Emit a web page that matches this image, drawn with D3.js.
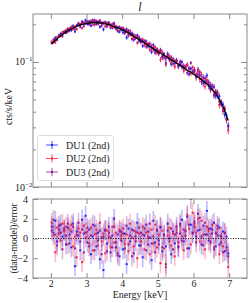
<!DOCTYPE html>
<html>
<head>
<meta charset="utf-8">
<script src="https://cdn.jsdelivr.net/npm/d3@7"></script>
<style>
  body { margin: 0; background: #fff; }
  svg text { font-family: "Liberation Serif", "DejaVu Serif", serif; fill: #222; }
</style>
</head>
<body>
<div id="art"></div>
<script>
// energy bins, 0.05 keV wide, 2.0 - 7.0 keV
const binWidth = 0.05;
const energies = d3.range(100).map(i => +(2.025 + i * binWidth).toFixed(3));

// model count rate (cts/s/keV), one value per bin
const model = [
  0.139, 0.144, 0.149, 0.153, 0.158, 0.162, 0.166, 0.170, 0.174, 0.177,
  0.181, 0.184, 0.187, 0.190, 0.193, 0.196, 0.198, 0.200, 0.201, 0.203,
  0.204, 0.205, 0.206, 0.207, 0.207, 0.207, 0.206, 0.205, 0.205, 0.203,
  0.202, 0.201, 0.199, 0.197, 0.194, 0.192, 0.190, 0.187, 0.185, 0.182,
  0.180, 0.177, 0.174, 0.171, 0.168, 0.164, 0.160, 0.157, 0.154, 0.151,
  0.148, 0.145, 0.142, 0.139, 0.136, 0.133, 0.131, 0.128, 0.125, 0.122,
  0.120, 0.118, 0.116, 0.113, 0.111, 0.109, 0.106, 0.104, 0.102, 0.100,
  0.098, 0.096, 0.094, 0.092, 0.090, 0.088, 0.086, 0.084, 0.083, 0.081,
  0.079, 0.077, 0.076, 0.074, 0.072, 0.070, 0.068, 0.067, 0.065, 0.062,
  0.060, 0.058, 0.056, 0.053, 0.050, 0.047, 0.044, 0.041, 0.037, 0.034
];

// fractional 1-sigma error per keV band (2-3, 3-4, 4-5, 5-6, 6-7)
const fracErr = [0.028, 0.032, 0.038, 0.046, 0.058];

// residuals (data-model)/error per bin
const residDU1 = [
  1.2, 0.6, 1.8, -0.3, 0.9, 1.4, 0.2, 0.8, -0.6, 1.1,
  0.4, -0.9, 1.5, -2.8, 0.7, 0.3, -1.2, 1.9, 0.5, 2.3,
  -0.4, 0.9, -1.6, 0.2, 1.3, -0.8, 0.6, -2.1, 0.1, -3.2,
  0.8, -0.5, 1.2, -1.4, 0.3, 2.0, -0.9, 0.4, -1.8, 0.7,
  -1.1, 0.5, -2.6, 1.0, -0.3, 0.9, -1.5, 0.2, 1.6, -0.7,
  0.6, -1.9, 0.3, 1.4, -0.6, 0.1, -2.2, 1.8, -0.4, 0.8,
  -0.2, 1.1, -1.3, 0.4, -0.8, 1.5, 0.0, -1.6, 0.7, -0.5,
  1.2, -0.9, 0.5, 1.9, -0.3, 0.8, 2.2, -1.0, 1.4, 0.6,
  1.7, 0.2, 2.5, 0.9, -0.6, 1.3, 0.4, 2.8, -0.2, 1.0,
  0.5, 1.6, -0.8, 0.3, 1.1, -0.4, 0.7, -1.3, 0.2, -1.5
];
const residDU2 = [
  1.6, 0.3, -1.4, 1.1, 0.5, -0.2, 1.5, 0.8, 1.2, -0.6,
  0.9, 1.4, -0.8, 0.2, -1.9, 1.0, 0.6, -2.4, 1.3, 0.1,
  0.7, -0.5, 1.1, -1.2, 0.4, 0.9, -0.7, 1.6, -0.3, 0.5,
  -1.5, 0.8, 0.2, -0.9, 1.2, -0.4, 0.6, -1.7, 0.9, 0.3,
  1.0, -0.6, 0.4, -1.3, 1.5, 0.1, -0.8, 0.7, -2.0, 0.5,
  -0.3, 1.2, -1.1, 0.6, 0.2, -1.6, 0.9, -0.5, 1.4, -0.9,
  0.4, -2.5, 0.8, -1.0, -2.9, 0.3, 1.1, -0.7, 0.5, -1.8,
  0.9, -0.4, 1.3, 0.2, -1.2, 0.7, 2.4, 1.0, -0.6, 2.6,
  1.5, 0.6, 2.0, -0.3, 1.8, 0.4, -1.1, 1.2, 0.8, -0.5,
  1.4, -0.9, 0.6, 1.0, -1.6, 0.3, -0.8, 0.5, -1.2, -2.9
];
const residDU3 = [
  0.8, 1.9, 0.4, -0.7, 1.3, 0.6, -1.1, 1.0, 0.3, 1.5,
  -0.5, 0.7, 1.2, -1.0, 0.4, 1.6, -0.3, 0.9, -1.4, 0.6,
  1.1, -0.8, 0.3, 1.4, -1.2, 0.5, -0.2, 0.8, -1.6, 0.2,
  0.9, -1.3, 0.6, 0.1, -0.9, 1.2, -0.4, -1.5, 0.7, -0.2,
  0.5, -1.0, 1.3, -0.6, 0.3, -1.8, 0.8, -0.3, 0.6, 1.1,
  -0.7, 0.4, 1.0, -1.2, 0.7, 1.5, -0.5, 0.2, -1.4, 0.9,
  -0.6, 1.2, -0.9, 0.3, -2.6, 0.8, -0.3, 1.0, -1.1, 0.4,
  0.6, -0.8, 1.5, -0.2, 0.9, 0.3, -1.0, 1.4, 4.0, 0.5,
  1.2, -0.4, 0.8, 2.1, 0.2, -0.7, 1.6, 0.4, 1.0, -0.3,
  0.9, -1.1, 0.5, 1.3, -0.6, 0.2, -1.4, 0.6, -0.9, -1.8
];

const seriesNames = ["DU1 (2nd)", "DU2 (2nd)", "DU3 (2nd)"];
const seriesColors = ["#1f1fff", "#ff2040", "#8e1b8e"];
const residuals = [residDU1, residDU2, residDU3];

const xTicks = [2, 3, 4, 5, 6, 7];
const residTicks = [-4, -2, 0, 2, 4];

function art() {
  const W = 250, H = 303;
  const left = 33, right = 247;
  const top1 = 14, bot1 = 187;
  const top2 = 199, bot2 = 278;
  const frame = "#8a8a8a";

  const svg = d3.select("#art").append("svg")
    .attr("width", W).attr("height", H);

  const x = d3.scaleLinear().domain([1.5, 7.5]).range([left, right]);
  const y = d3.scaleLog().domain([0.01, 0.242]).range([bot1, top1]);
  const yr = d3.scaleLinear().domain([-4, 4]).range([bot2, top2]);

  const defs = svg.append("defs");
  defs.append("clipPath").attr("id", "c1").append("rect")
    .attr("x", left).attr("y", top1).attr("width", right - left).attr("height", bot1 - top1);
  defs.append("clipPath").attr("id", "c2").append("rect")
    .attr("x", left).attr("y", top2).attr("width", right - left).attr("height", bot2 - top2);

  const band = e => Math.min(4, Math.floor(e - 2));

  // ---- spectrum panel
  const g1 = svg.append("g").attr("clip-path", "url(#c1)");
  residuals.forEach((res, k) => {
    const pts = energies.map((e, i) => {
      const s = model[i] * fracErr[band(e)];
      return { e, v: model[i] + res[i] * s, s };
    });
    const g = g1.append("g").attr("stroke", seriesColors[k]).attr("stroke-width", 0.8);
    g.selectAll(".ev").data(pts).enter().append("line")
      .attr("x1", d => x(d.e)).attr("x2", d => x(d.e))
      .attr("y1", d => y(d.v - d.s)).attr("y2", d => y(d.v + d.s));
    g.selectAll(".eh").data(pts).enter().append("line")
      .attr("x1", d => x(d.e - binWidth / 2)).attr("x2", d => x(d.e + binWidth / 2))
      .attr("y1", d => y(d.v)).attr("y2", d => y(d.v));
    g1.append("g").selectAll("rect").data(pts).enter().append("rect")
      .attr("x", d => x(d.e) - 0.9).attr("y", d => y(d.v) - 0.9)
      .attr("width", 1.8).attr("height", 1.8)
      .attr("fill", seriesColors[k]);
  });
  g1.append("path")
    .datum(energies.map((e, i) => [e, model[i]]))
    .attr("fill", "none").attr("stroke", "#000").attr("stroke-width", 1.3)
    .attr("d", d3.line().x(d => x(d[0])).y(d => y(d[1])));

  // ---- residual panel
  const g2 = svg.append("g").attr("clip-path", "url(#c2)");
  residuals.forEach((res, k) => {
    const pts = energies.map((e, i) => ({ e, r: res[i] }));
    g2.append("g").attr("stroke", seriesColors[k]).attr("stroke-opacity", 0.3)
      .attr("stroke-width", 1.6)
      .selectAll("line").data(pts).enter().append("line")
      .attr("x1", d => x(d.e)).attr("x2", d => x(d.e))
      .attr("y1", d => yr(d.r - 1)).attr("y2", d => yr(d.r + 1));
    g2.append("g").selectAll("rect").data(pts).enter().append("rect")
      .attr("x", d => x(d.e) - 1).attr("y", d => yr(d.r) - 1)
      .attr("width", 2).attr("height", 2)
      .attr("fill", seriesColors[k]);
  });
  g2.append("line")
    .attr("x1", left).attr("x2", right).attr("y1", yr(0)).attr("y2", yr(0))
    .attr("stroke", "#000").attr("stroke-width", 0.9).attr("stroke-dasharray", "1,1.5");

  // ---- frames and ticks
  function ticks(sel) {
    sel.select(".domain").remove();
    sel.selectAll(".tick line").attr("stroke", frame);
    sel.selectAll(".tick text").attr("font-size", 10).attr("fill", "#222")
      .style("font-family", "'Liberation Serif', serif");
  }
  const noLab = () => "";

  svg.append("g").attr("transform", `translate(0,${bot1})`)
    .call(d3.axisBottom(x).tickValues(xTicks).tickSize(-5).tickFormat(noLab)).call(ticks);
  svg.append("g").attr("transform", `translate(0,${top1})`)
    .call(d3.axisTop(x).tickValues(xTicks).tickSize(-5).tickFormat(noLab)).call(ticks);
  svg.append("g").attr("transform", `translate(0,${bot2})`)
    .call(d3.axisBottom(x).tickValues(xTicks).tickSize(-5).tickPadding(2).tickFormat(d3.format("d"))).call(ticks);
  svg.append("g").attr("transform", `translate(0,${top2})`)
    .call(d3.axisTop(x).tickValues(xTicks).tickSize(-5).tickFormat(noLab)).call(ticks);

  const majorY = [0.01, 0.1];
  const minorY = d3.range(2, 10).map(m => m * 0.01).concat([0.2]);
  [[left, d3.axisLeft], [right, d3.axisRight]].forEach(([px, ax]) => {
    svg.append("g").attr("transform", `translate(${px},0)`)
      .call(ax(y).tickValues(majorY).tickSize(-6).tickFormat(noLab)).call(ticks);
    svg.append("g").attr("transform", `translate(${px},0)`)
      .call(ax(y).tickValues(minorY).tickSize(-3).tickFormat(noLab)).call(ticks);
    svg.append("g").attr("transform", `translate(${px},0)`)
      .call(ax(yr).tickValues(residTicks).tickSize(-5)
        .tickPadding(5).tickFormat(px === left ? d3.format("d") : noLab)).call(ticks);
  });

  // log labels
  [[0.1, "−1"], [0.01, "−2"]].forEach(([v, ex]) => {
    const t = svg.append("text").attr("x", 15).attr("y", y(v) + 3.5).attr("font-size", 10);
    t.append("tspan").text("10");
    t.append("tspan").attr("dy", -4).attr("font-size", 7).text(ex);
  });

  [[top1, bot1], [top2, bot2]].forEach(([a, b]) => {
    svg.append("rect").attr("x", left).attr("y", a)
      .attr("width", right - left).attr("height", b - a)
      .attr("fill", "none").attr("stroke", frame).attr("stroke-width", 1);
  });

  // ---- legend
  const lg = svg.append("g");
  lg.append("rect").attr("x", 37.5).attr("y", 135.5).attr("width", 76).attr("height", 45)
    .attr("rx", 2).attr("fill", "#fff").attr("stroke", "#d6d6d6").attr("stroke-width", 0.8);
  seriesNames.forEach((name, k) => {
    const cy = 145 + k * 13.5;
    const c = seriesColors[k];
    lg.append("line").attr("x1", 46).attr("x2", 58).attr("y1", cy).attr("y2", cy)
      .attr("stroke", c).attr("stroke-width", 0.8);
    lg.append("line").attr("x1", 52).attr("x2", 52).attr("y1", cy - 4).attr("y2", cy + 4)
      .attr("stroke", c).attr("stroke-width", 0.8);
    lg.append("rect").attr("x", 51).attr("y", cy - 1).attr("width", 2).attr("height", 2).attr("fill", c);
    lg.append("text").attr("x", 66).attr("y", cy + 3.5).attr("font-size", 10).text(name);
  });

  // ---- titles
  svg.append("text").attr("x", (left + right) / 2).attr("y", 11)
    .attr("text-anchor", "middle").attr("font-size", 12).attr("font-style", "italic")
    .text("l");
  svg.append("text").attr("transform", `translate(12,${(top1 + bot1) / 2 + 6}) rotate(-90)`)
    .attr("text-anchor", "middle").attr("font-size", 10).text("cts/s/keV");
  svg.append("text").attr("transform", `translate(17,${(top2 + bot2) / 2}) rotate(-90)`)
    .attr("text-anchor", "middle").attr("font-size", 9.5).text("(data-model)/error");
  svg.append("text").attr("x", (left + right) / 2).attr("y", 298)
    .attr("text-anchor", "middle").attr("font-size", 10).text("Energy [keV]");
}

window.onload = function () {
  art();
};
</script>
</body>
</html>
